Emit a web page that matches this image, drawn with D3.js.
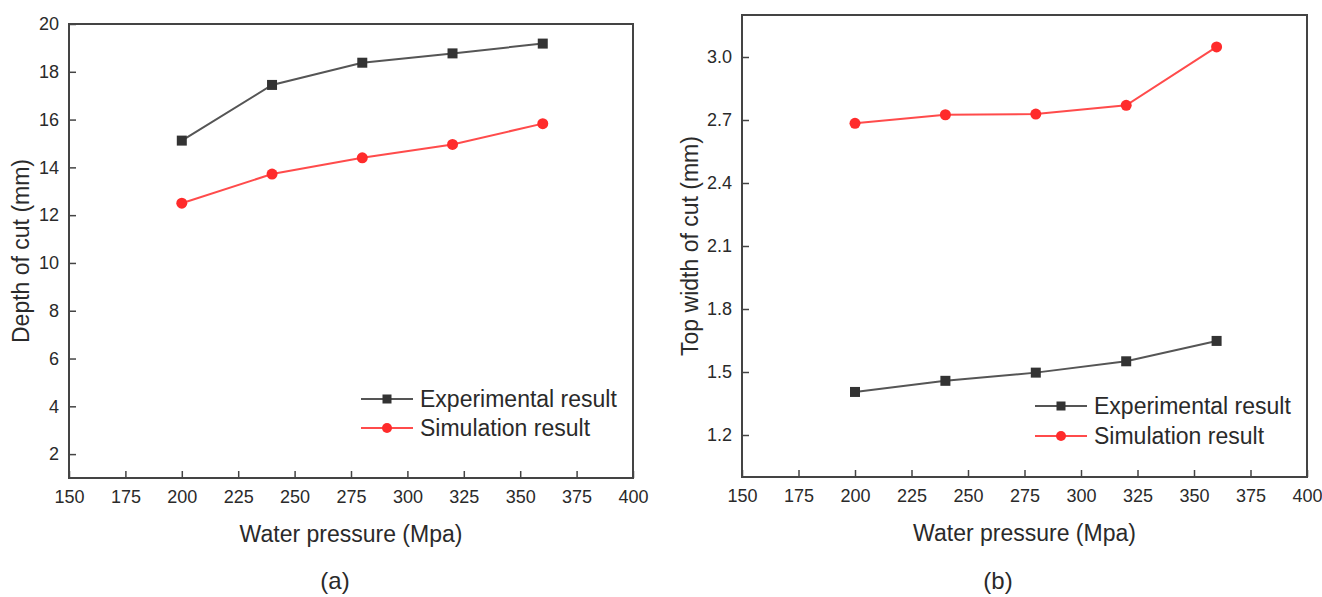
<!DOCTYPE html>
<html>
<head>
<meta charset="utf-8">
<script src="https://cdn.jsdelivr.net/npm/d3@7"></script>
<style>
  body { margin: 0; background: #fff; }
  svg text { font-family: "Liberation Sans", Arial, sans-serif; fill: #2a2a2a; }
</style>
</head>
<body>
<div id="chart"></div>
<script>
// shared x values (water pressure, MPa)
const pressure = [200, 240, 280, 320, 360];
const xTicks = [150, 175, 200, 225, 250, 275, 300, 325, 350, 375, 400];

// panel (a): depth of cut (mm)
const depthExperimental = [15.12, 17.45, 18.38, 18.77, 19.18];
const depthSimulation = [12.5, 13.72, 14.4, 14.96, 15.83];
const depthTicks = [2, 4, 6, 8, 10, 12, 14, 16, 18, 20];

// panel (b): top width of cut (mm)
const widthExperimental = [1.405, 1.458, 1.497, 1.551, 1.648];
const widthSimulation = [2.684, 2.725, 2.728, 2.77, 3.048];
const widthTicks = [1.2, 1.5, 1.8, 2.1, 2.4, 2.7, 3.0];

const seriesNames = ["Experimental result", "Simulation result"];

const W = 1322, H = 597;
const svg = d3.select("#chart").append("svg")
    .attr("width", W)
    .attr("height", H);

const grey = "#555", greyMark = "#333", red = "#ff2b2b";

function panel(opt) {
    const { left, right, top, bottom } = opt.box;
    const g = svg.append("g");

    const x = d3.scaleLinear().domain([150, 400]).range([left, right]);
    const y = d3.scaleLinear().domain(opt.yDomain).range([bottom, top]);

    // x axis, ticks pointing inward
    const xAxis = g.append("g")
        .attr("transform", `translate(0,${bottom})`)
        .call(d3.axisBottom(x).tickValues(xTicks).tickSize(-7).tickPadding(12));
    xAxis.select(".domain").remove();
    xAxis.selectAll("line").attr("stroke", "#444").attr("stroke-width", 1.5);
    xAxis.selectAll("text").attr("font-size", "18px");

    // y axis
    const yAxis = g.append("g")
        .attr("transform", `translate(${left},0)`)
        .call(d3.axisLeft(y).tickValues(opt.yTicks).tickSize(-7).tickPadding(10)
            .tickFormat(opt.yFormat));
    yAxis.select(".domain").remove();
    yAxis.selectAll("line").attr("stroke", "#444").attr("stroke-width", 1.5);
    yAxis.selectAll("text").attr("font-size", "18px");

    // frame
    g.append("rect")
        .attr("x", left).attr("y", top)
        .attr("width", right - left).attr("height", bottom - top)
        .attr("fill", "none")
        .attr("stroke", "#444")
        .attr("stroke-width", 2);

    const line = d3.line().x(d => x(d[0])).y(d => y(d[1]));
    const exp = pressure.map((p, i) => [p, opt.experimental[i]]);
    const sim = pressure.map((p, i) => [p, opt.simulation[i]]);

    g.append("path").datum(exp)
        .attr("d", line).attr("fill", "none")
        .attr("stroke", grey).attr("stroke-width", 2);
    g.selectAll(".sq").data(exp).join("rect")
        .attr("x", d => x(d[0]) - 5).attr("y", d => y(d[1]) - 5)
        .attr("width", 10).attr("height", 10)
        .attr("fill", greyMark);

    g.append("path").datum(sim)
        .attr("d", line).attr("fill", "none")
        .attr("stroke", red).attr("stroke-width", 2).attr("stroke-opacity", 0.85);
    g.selectAll(".ci").data(sim).join("circle")
        .attr("cx", d => x(d[0])).attr("cy", d => y(d[1]))
        .attr("r", 5.5)
        .attr("fill", red);

    // axis titles
    g.append("text")
        .attr("x", (left + right) / 2).attr("y", bottom + 64)
        .attr("text-anchor", "middle")
        .attr("font-size", "23px")
        .text("Water pressure (Mpa)");
    g.append("text")
        .attr("transform", `translate(${opt.yTitleX},${(top + bottom) / 2}) rotate(-90)`)
        .attr("text-anchor", "middle")
        .attr("dy", "0.35em")
        .attr("font-size", "23px")
        .text(opt.yTitle);

    // legend
    const lg = opt.legend;
    [greyMark, red].forEach((c, i) => {
        const ly = lg.y + i * lg.step;
        g.append("line")
            .attr("x1", lg.x).attr("x2", lg.x + 52)
            .attr("y1", ly).attr("y2", ly)
            .attr("stroke", i === 0 ? grey : red)
            .attr("stroke-width", 2).attr("stroke-opacity", i === 0 ? 1 : 0.85);
        if (i === 0) {
            g.append("rect")
                .attr("x", lg.x + 26 - 4.5).attr("y", ly - 4.5)
                .attr("width", 9).attr("height", 9).attr("fill", c);
        } else {
            g.append("circle")
                .attr("cx", lg.x + 26).attr("cy", ly).attr("r", 5).attr("fill", c);
        }
        g.append("text")
            .attr("x", lg.x + 59).attr("y", ly)
            .attr("dy", "0.35em")
            .attr("font-size", "23px")
            .text(seriesNames[i]);
    });

    // caption
    g.append("text")
        .attr("x", opt.caption.x).attr("y", opt.caption.y)
        .attr("text-anchor", "middle")
        .attr("dy", "0.35em")
        .attr("font-size", "24px")
        .text(opt.caption.text);
}

panel({
    box: { left: 69, right: 633, top: 24, bottom: 478 },
    yDomain: [1, 20],
    yTicks: depthTicks,
    yFormat: d3.format("d"),
    experimental: depthExperimental,
    simulation: depthSimulation,
    yTitle: "Depth of cut (mm)",
    yTitleX: 21,
    legend: { x: 361, y: 399, step: 29 },
    caption: { x: 335, y: 581, text: "(a)" }
});

panel({
    box: { left: 742, right: 1307, top: 15, bottom: 477 },
    yDomain: [1.0, 3.2],
    yTicks: widthTicks,
    yFormat: d3.format(".1f"),
    experimental: widthExperimental,
    simulation: widthSimulation,
    yTitle: "Top width of cut (mm)",
    yTitleX: 690,
    legend: { x: 1035, y: 406, step: 30 },
    caption: { x: 998, y: 581, text: "(b)" }
});
</script>
</body>
</html>
